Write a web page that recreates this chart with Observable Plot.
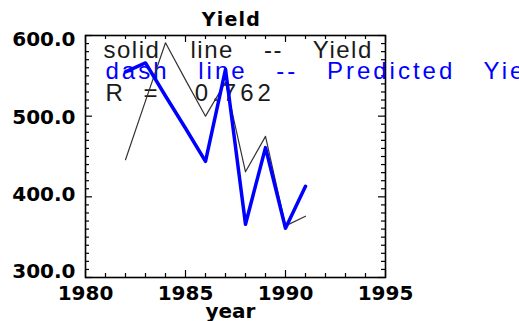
<!DOCTYPE html>
<html><head><meta charset="utf-8">
<script src="https://cdn.jsdelivr.net/npm/d3@7"></script>
<script src="https://cdn.jsdelivr.net/npm/@observablehq/plot@0.6"></script>
<style>
html,body{margin:0;padding:0;background:#fff;overflow:hidden;}
#chart svg{display:block;}
</style></head><body><div id="chart"></div>
<script>
// ---- data ----
const years = [1982, 1983, 1984, 1985, 1986, 1987, 1988, 1989, 1990, 1991];
const yieldValues = [446, 519, 591, 545, 500, 542, 431, 475, 364, 376];
const predictedValues = [555, 566, 525, 485, 444, 558, 366, 461, 361, 413];
const xTicks = [1980, 1985, 1990, 1995];
const yTicks = [300, 400, 500, 600];
const yTickShift = [-6, -2, 1, 4]; // label nudges seen in the reference
const xMinor = d3.range(1980, 1996, 1);
const yMinor = d3.range(300, 601, 10);
const titleText = "Yield";
const xLabel = "year";
const legendLines = ["solid line -- Yield", "dash line -- Predicted Yield", "R =  0.762"];
const legendColors = ["#1a1a1a", "#0000ff", "#1a1a1a"];

const yieldData = years.map((year, i) => ({year, value: yieldValues[i]}));
const predData = years.map((year, i) => ({year, value: predictedValues[i]}));

const W = 519, H = 321, ML = 85, MR = 134, MT = 35, MB = 44;
const FW = W - ML - MR, FH = H - MT - MB;
const minorLen = 4, majorLen = 7;
const isMajorX = d => d % 5 === 0, isMajorY = d => d % 100 === 0;
const tickStyle = {stroke: "#000", strokeWidth: 1.2};

const legendFont = "Liberation Sans, Arial, sans-serif";

const svg = Plot.plot({
  width: W, height: H,
  marginLeft: ML, marginRight: MR, marginTop: MT, marginBottom: MB,
  style: {fontFamily: "DejaVu Sans", fontWeight: "bold", fontSize: "20px", background: "#fff", color: "#000"},
  x: {domain: [1980, 1995]},
  y: {domain: [300, 600]},
  marks: [
    Plot.axisX({ticks: xTicks, tickSize: 0, tickPadding: 8, tickFormat: d => String(d), label: null, fontSize: 20}),
    ...yTicks.map((t, i) => Plot.axisY({ticks: [t], tickSize: 0, tickPadding: 10, tickFormat: d3.format(".1f"), label: null, dy: yTickShift[i], fontSize: 20})),
    // inward ticks on all four sides
    Plot.ruleX(xMinor.filter(d => !isMajorX(d)), {x: d => d, insetTop: FH - minorLen, ...tickStyle}),
    Plot.ruleX(xMinor.filter(isMajorX), {x: d => d, insetTop: FH - majorLen, ...tickStyle}),
    Plot.ruleX(xMinor.filter(d => !isMajorX(d)), {x: d => d, insetBottom: FH - minorLen, ...tickStyle}),
    Plot.ruleX(xMinor.filter(isMajorX), {x: d => d, insetBottom: FH - majorLen, ...tickStyle}),
    Plot.ruleY(yMinor.filter(d => !isMajorY(d)), {y: d => d, insetRight: FW - minorLen, ...tickStyle}),
    Plot.ruleY(yMinor.filter(isMajorY), {y: d => d, insetRight: FW - majorLen, ...tickStyle}),
    Plot.ruleY(yMinor.filter(d => !isMajorY(d)), {y: d => d, insetLeft: FW - minorLen, ...tickStyle}),
    Plot.ruleY(yMinor.filter(isMajorY), {y: d => d, insetLeft: FW - majorLen, ...tickStyle}),
    Plot.frame({stroke: "#000", strokeWidth: 1.6}),
    ...legendLines.map((t, i) => Plot.text([t], {
      text: d => d, frameAnchor: "top-left", textAnchor: "start", lineAnchor: "bottom",
      dx: i === 0 ? 18 : 20, dy: [22, 43, 65][i],
      fill: legendColors[i], fontFamily: legendFont, fontWeight: "normal", fontSize: 24
    })),
    Plot.line(yieldData, {x: "year", y: "value", stroke: "#333", strokeWidth: 1.2}),
    Plot.line(predData, {x: "year", y: "value", stroke: "#0000ff", strokeWidth: 3.5}),
    Plot.text([titleText], {text: d => d, frameAnchor: "top", lineAnchor: "bottom", dy: -10, dx: -4, fontSize: 19, fontWeight: "bold"}),
    Plot.text([xLabel], {text: d => d, frameAnchor: "bottom", lineAnchor: "bottom", dy: 40, dx: -5, fontSize: 20, fontWeight: "bold"})
  ]
});

const legendStyle = [{ls: 1.5, ws: 22}, {ls: 3, ws: 19}, {ls: 4, ws: 6}];
svg.querySelectorAll("text").forEach(t => {
  const i = legendLines.indexOf(t.textContent);
  if (i >= 0) {
    t.style.letterSpacing = legendStyle[i].ls + "px";
    t.style.wordSpacing = legendStyle[i].ws + "px";
    t.style.whiteSpace = "pre";
  }
  if (t.textContent === titleText) t.style.letterSpacing = "1.2px";
});
document.getElementById("chart").appendChild(svg);
</script>
</body></html>
